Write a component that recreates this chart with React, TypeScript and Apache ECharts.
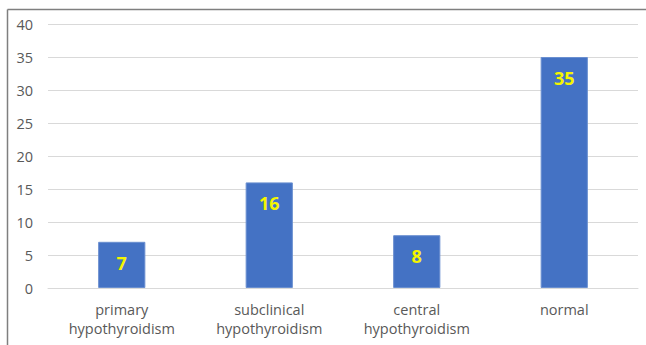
import React, { useEffect, useRef } from "react";
import * as echarts from "echarts";

const categories = [
  "primary\nhypothyroidism",
  "subclinical\nhypothyroidism",
  "central\nhypothyroidism",
  "normal",
];
const counts = [7, 16, 8, 35];
const yTicks = { min: 0, max: 40, interval: 5 };

export default function App() {
  const ref = useRef<HTMLDivElement>(null);

  useEffect(() => {
    if (!ref.current) return;
    const chart = echarts.init(ref.current, null, { renderer: "svg" });
    const font = "'Open Sans', 'Noto Sans', sans-serif";
    chart.setOption({
      animation: false,
      backgroundColor: "#ffffff",
      textStyle: { fontFamily: font },
      grid: { left: 48, right: 8, top: 24, bottom: 57 },
      xAxis: {
        type: "category",
        data: categories,
        axisLine: { show: true, lineStyle: { color: "#d9d9d9", width: 1 } },
        axisTick: { show: false },
        axisLabel: {
          color: "#595959",
          fontSize: 14.5,
          fontFamily: font,
          lineHeight: 19,
          margin: 12,
        },
      },
      yAxis: {
        type: "value",
        min: yTicks.min,
        max: yTicks.max,
        interval: yTicks.interval,
        axisLine: { show: false },
        axisTick: { show: false },
        splitLine: { lineStyle: { color: "#d9d9d9", width: 1 } },
        axisLabel: {
          color: "#595959",
          fontSize: 14.5,
          fontFamily: font,
          margin: 15,
        },
      },
      series: [
        {
          type: "bar",
          data: counts,
          barWidth: "32%",
          itemStyle: {
            color: "#4472c4",
            borderColor: "#6a8fd0",
            borderWidth: 1,
          },
          label: {
            show: true,
            position: "insideTop",
            distance: 12,
            color: "#f5f500",
            fontSize: 18,
            fontWeight: "bold",
            fontFamily: font,
          },
        },
      ],
      graphic: [
        {
          type: "line",
          shape: { x1: 7.5, y1: 9.5, x2: 646, y2: 9.5 },
          style: { stroke: "#7f7f7f", lineWidth: 1.5 },
          z: 10,
        },
        {
          type: "line",
          shape: { x1: 7.5, y1: 9.5, x2: 7.5, y2: 345 },
          style: { stroke: "#7f7f7f", lineWidth: 1.5 },
          z: 10,
        },
      ],
    });
    return () => chart.dispose();
  }, []);

  return (
    <div
      ref={ref}
      style={{
        position: "fixed",
        left: 0,
        top: 0,
        width: 646,
        height: 345,
      }}
    />
  );
}
